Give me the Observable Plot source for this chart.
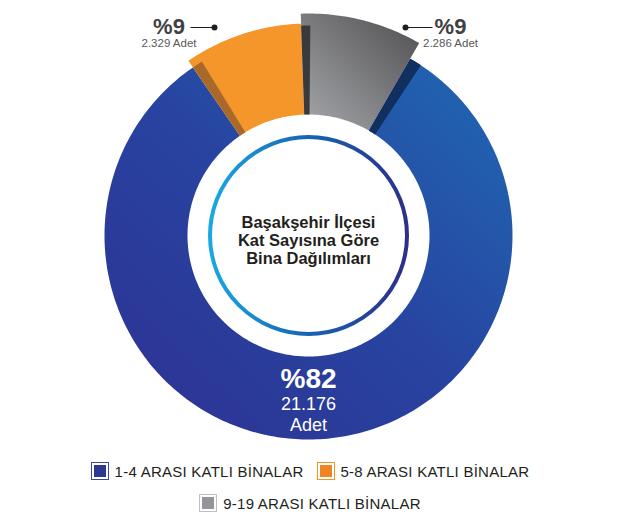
<!DOCTYPE html>
<html>
<head>
<meta charset="utf-8">
<script src="https://cdn.jsdelivr.net/npm/d3@7"></script>
<script src="https://cdn.jsdelivr.net/npm/@observablehq/plot@0.6"></script>
<style>
  body { margin: 0; background: #fff; font-family: "Liberation Sans", Arial, sans-serif; }
  #chart { width: 620px; }
  .legend { width: 620px; padding-top: 7px; }
  .row { display: flex; justify-content: center; align-items: center; height: 18px; }
  .row + .row { margin-top: 14px; }
  .item { display: flex; align-items: center; font-size: 15px; letter-spacing: 0.25px; color: #231f20; white-space: nowrap; }
  .item + .item { margin-left: 13px; }
  .sw { box-sizing: border-box; width: 18px; height: 18px; padding: 2px; border: 1.5px solid; background-clip: content-box; margin-right: 6px; }
</style>
</head>
<body>
<div id="chart"></div>
<div class="legend" id="legend"></div>
<script>
// ---- data ----
const categories = ["1-4 ARASI KATLI BİNALAR", "5-8 ARASI KATLI BİNALAR", "9-19 ARASI KATLI BİNALAR"];
const counts = [21176, 2329, 2286];
const percentLabels = ["%82", "%9", "%9"];
const countLabels = ["21.176", "2.329", "2.286"];
const unitLabel = "Adet";
const titleLines = ["Başakşehir İlçesi", "Kat Sayısına Göre", "Bina Dağılımları"];

// ---- styles / layout ----
const sliceFill = ["url(#gBlue)", "#f5962a", "url(#gGray)"];
const sliceOuter = [204, 212, 222];
const innerR = 121;
const swatchOuter = ["#3d4aa3", "#f7941d", "#bcbec0"];
const swatchInner = ["#2b3990", "#ee8422", "#939598"];
const CX = 308, CY = 235, W = 620, H = 455;
const FONT = "'Liberation Sans', Arial, sans-serif";
const px = (x) => x - CX, py = (y) => CY - y;

// ---- angles (degrees clockwise from top) ----
const total = d3.sum(counts);
const span = counts.map(c => c / total * 360);
const a0 = -span[1] - 2;              // orange|gray boundary sits near the top
const ang = [];
ang[1] = [a0, a0 + span[1]];
ang[2] = [ang[1][1], ang[1][1] + span[2]];
ang[0] = [ang[2][1], a0 + 360];

const rad = d => d * Math.PI / 180;
function arc(id, d0, d1, r0, r1, fill) {
  const n = Math.max(6, Math.ceil(Math.abs(d1 - d0)));
  const pts = [];
  for (let i = 0; i <= n; i++) { const a = rad(d0 + (d1 - d0) * i / n); pts.push({id, fill, x: r1 * Math.sin(a), y: r1 * Math.cos(a)}); }
  for (let i = n; i >= 0; i--) { const a = rad(d0 + (d1 - d0) * i / n); pts.push({id, fill, x: r0 * Math.sin(a), y: r0 * Math.cos(a)}); }
  return pts;
}
let polys = [];
[0, 1, 2].forEach(i => { polys = polys.concat(arc("s" + i, ang[i][0], ang[i][1], innerR, sliceOuter[i], sliceFill[i])); });
// shadow strips
polys = polys.concat(arc("sh1", ang[1][0], ang[1][0] + 3, innerR, sliceOuter[0], "#a9692a"));
polys = polys.concat(arc("sh2", ang[2][0], ang[2][0] + 2.5, innerR, sliceOuter[1] - 2, "#3a3a3d"));
polys = polys.concat(arc("sh3", ang[2][1], ang[2][1] + 3.5, innerR, sliceOuter[0], "#12305f"));

// label layout (pixel positions)
const topLabels = [
  {pct: percentLabels[1], cnt: countLabels[1] + " " + unitLabel, x: px(168.5), yp: py(26.5), yc: py(43), lx1: px(190), lx2: px(214), ly: py(27)},
  {pct: percentLabels[2], cnt: countLabels[2] + " " + unitLabel, x: px(450), yp: py(26.5), yc: py(43), lx1: px(432), lx2: px(405), ly: py(27)}
];
const titleRows = titleLines.map((t, i) => ({t, y: py(222.5 + i * 18)}));
const mainPct = [{t: percentLabels[0], y: py(379)}];
const mainCnt = [{t: countLabels[0] + "\n" + unitLabel, y: py(413.5)}];

const plot = Plot.plot({
  width: W, height: H, margin: 0,
  x: {domain: [px(0), px(W)], axis: null},
  y: {domain: [py(H), py(0)], axis: null},
  color: {type: "identity"},
  style: {fontFamily: FONT, background: "#fff"},
  marks: [
    Plot.line(polys, {x: "x", y: "y", z: "id", fill: "fill", stroke: "none"}),
    Plot.dot([0], {x: () => 0, y: () => 0, r: 98.5, stroke: "url(#gRing)", strokeWidth: 4, fill: "none"}),
    Plot.text(titleRows, {x: () => 0, y: "y", text: "t", fontSize: 16.5, fontWeight: "bold", fill: "#231f20", letterSpacing: 0.85, textAnchor: "middle"}),
    Plot.text(mainPct, {x: () => 0, y: "y", text: "t", fontSize: 28, fontWeight: "bold", fill: "#fff", textAnchor: "middle"}),
    Plot.text(mainCnt, {x: () => 0, y: "y", text: "t", fontSize: 18, lineHeight: 1.12, fill: "#fff", textAnchor: "middle"}),
    Plot.link(topLabels, {x1: "lx1", x2: "lx2", y1: "ly", y2: "ly", stroke: "#231f20", strokeWidth: 1}),
    Plot.dot(topLabels, {x: "lx2", y: "ly", r: 3, fill: "#231f20", stroke: "none"}),
    Plot.text(topLabels, {x: "x", y: "yp", text: "pct", fontSize: 22, fontWeight: "bold", fill: "#414042", textAnchor: "middle"}),
    Plot.text(topLabels, {x: "x", y: "yc", text: "cnt", fontSize: 11.5, fill: "#58595b", textAnchor: "middle"})
  ]
});

const svg = d3.select(plot);
const defs = svg.insert("defs", ":first-child");
function grad(id, x1, y1, x2, y2, stops) {
  const g = defs.append("linearGradient").attr("id", id).attr("x1", x1).attr("y1", y1).attr("x2", x2).attr("y2", y2);
  stops.forEach(([o, c]) => g.append("stop").attr("offset", o).attr("stop-color", c));
}
grad("gBlue", 0, 1, 1, 0, [[0, "#2e3192"], [0.5, "#2843a0"], [1, "#1f6ab3"]]);
grad("gGray", 1, 0, 0, 1, [[0, "#4e4e51"], [1, "#a8a9ac"]]);
grad("gRing", 0, 0, 1, 0, [[0, "#1aa8e3"], [0.5, "#1763b3"], [1, "#2e2f8a"]]);

document.getElementById("chart").appendChild(plot);

// legend
const legend = d3.select("#legend");
const rows = [[0, 1], [2]];
rows.forEach(r => {
  const row = legend.append("div").attr("class", "row");
  r.forEach(i => {
    const it = row.append("span").attr("class", "item");
    it.append("i").attr("class", "sw").style("border-color", swatchOuter[i]).style("background-color", swatchInner[i]);
    it.append("span").text(categories[i]);
  });
});
</script>
</body>
</html>
